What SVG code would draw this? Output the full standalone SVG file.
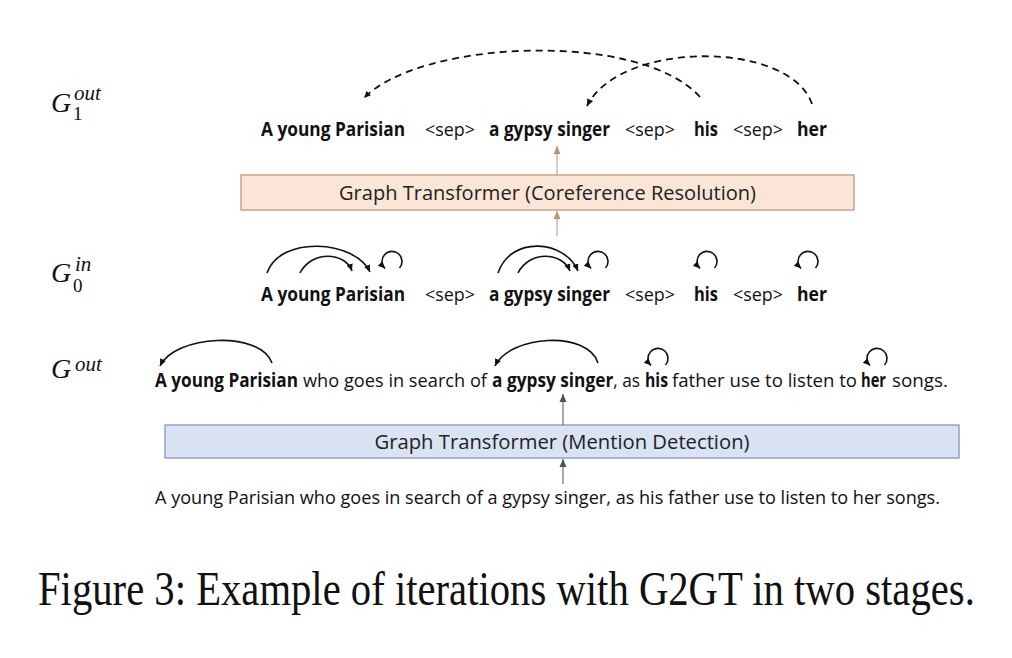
<svg xmlns="http://www.w3.org/2000/svg" width="1012" height="658" viewBox="0 0 1012 658">
<style>
.t{font-family:"Open Sans","Liberation Sans",sans-serif;font-size:19px;fill:#111}
.s{font-size:18px}
.b{font-weight:bold}
.box{font-family:"Open Sans","Liberation Sans",sans-serif;font-size:20px;fill:#222}
.m{font-family:"Liberation Serif","DejaVu Serif",serif;font-style:italic;fill:#111;font-size:28px}
.sm{font-size:21px}
.up{font-style:normal;font-size:19px}
.arc{fill:none;stroke:#111;stroke-width:1.6}
.dash{fill:none;stroke:#111;stroke-width:1.8;stroke-dasharray:7 5}
.cap{font-family:"Liberation Serif","Times New Roman",serif;font-size:48px;fill:#111}
</style>
<defs>
<marker id="ah" markerUnits="userSpaceOnUse" markerWidth="8" markerHeight="8" refX="7" refY="4" orient="auto"><path d="M0,0.8 L7,4 L0,7.2 Z" fill="#111"/></marker>
<marker id="ahO" markerUnits="userSpaceOnUse" markerWidth="9" markerHeight="9" refX="8" refY="4.5" orient="auto"><path d="M0,1 L8,4.5 L0,8 Z" fill="#c09070"/></marker>
<marker id="ahB" markerUnits="userSpaceOnUse" markerWidth="9" markerHeight="9" refX="8" refY="4.5" orient="auto"><path d="M0,1 L8,4.5 L0,8 Z" fill="#44546a"/></marker>
</defs>
<rect width="1012" height="658" fill="#fff"/>

<g id="label-g1out">
<text class="m" x="51" y="112">G<tspan class="sm" x="74" y="100">out</tspan><tspan class="up" x="73" y="120">1</tspan></text>
</g>
<g id="label-g0in">
<text class="m" x="51" y="282">G<tspan class="sm" x="75" y="271">in</tspan><tspan class="up" x="73" y="292">0</tspan></text>
</g>
<g id="label-gout">
<text class="m" x="51" y="378">G<tspan class="sm" x="75" y="371">out</tspan></text>
</g>

<g id="row-g1out">
<text class="t b" x="261" y="136" textLength="144" lengthAdjust="spacingAndGlyphs">A young Parisian</text>
<text class="t" x="425" y="136" textLength="50" lengthAdjust="spacingAndGlyphs">&lt;sep&gt;</text>
<text class="t b" x="489" y="136" textLength="121" lengthAdjust="spacingAndGlyphs">a gypsy singer</text>
<text class="t" x="625" y="136" textLength="50" lengthAdjust="spacingAndGlyphs">&lt;sep&gt;</text>
<text class="t b" x="694" y="136" textLength="24" lengthAdjust="spacingAndGlyphs">his</text>
<text class="t" x="733" y="136" textLength="50" lengthAdjust="spacingAndGlyphs">&lt;sep&gt;</text>
<text class="t b" x="797" y="136" textLength="30" lengthAdjust="spacingAndGlyphs">her</text>
</g>

<g id="coref-box">
<rect x="241" y="175" width="613" height="35" fill="#fbe5d6" stroke="#c8967a" stroke-width="1.3"/>
<text class="box" x="547.5" y="200" text-anchor="middle" textLength="417" lengthAdjust="spacingAndGlyphs">Graph Transformer (Coreference Resolution)</text>
</g>

<g id="row-g0in">
<text class="t b" x="261" y="301" textLength="144" lengthAdjust="spacingAndGlyphs">A young Parisian</text>
<text class="t" x="425" y="301" textLength="50" lengthAdjust="spacingAndGlyphs">&lt;sep&gt;</text>
<text class="t b" x="489" y="301" textLength="121" lengthAdjust="spacingAndGlyphs">a gypsy singer</text>
<text class="t" x="625" y="301" textLength="50" lengthAdjust="spacingAndGlyphs">&lt;sep&gt;</text>
<text class="t b" x="694" y="301" textLength="24" lengthAdjust="spacingAndGlyphs">his</text>
<text class="t" x="733" y="301" textLength="50" lengthAdjust="spacingAndGlyphs">&lt;sep&gt;</text>
<text class="t b" x="797" y="301" textLength="30" lengthAdjust="spacingAndGlyphs">her</text>
</g>

<g id="row-gout">
<text class="t b" x="155" y="387" textLength="143" lengthAdjust="spacingAndGlyphs">A young Parisian</text>
<text class="t" x="303" y="387" textLength="184" lengthAdjust="spacingAndGlyphs">who goes in search of</text>
<text class="t" x="492" y="387" textLength="148" lengthAdjust="spacingAndGlyphs"><tspan class="b">a gypsy singer</tspan>, as</text>
<text class="t b" x="645" y="387" textLength="23" lengthAdjust="spacingAndGlyphs">his</text>
<text class="t" x="672" y="387" textLength="185" lengthAdjust="spacingAndGlyphs">father use to listen to</text>
<text class="t b" x="861" y="387" textLength="25" lengthAdjust="spacingAndGlyphs">her</text>
<text class="t" x="892" y="387" textLength="56" lengthAdjust="spacingAndGlyphs">songs.</text>
</g>

<g id="mention-box">
<rect x="165" y="425" width="794" height="33" fill="#dae3f3" stroke="#8796b8" stroke-width="1.3"/>
<text class="box" x="562" y="449" text-anchor="middle" textLength="375" lengthAdjust="spacingAndGlyphs">Graph Transformer (Mention Detection)</text>
</g>

<g id="input-sentence">
<text class="t s" x="155" y="504" textLength="785" lengthAdjust="spacingAndGlyphs">A young Parisian who goes in search of a gypsy singer, as his father use to listen to her songs.</text>
</g>

<g id="connectors">
<line x1="563" y1="484" x2="563" y2="459" stroke="#44546a" stroke-width="1" marker-end="url(#ahB)"/>
<line x1="563" y1="425" x2="563" y2="394" stroke="#44546a" stroke-width="1" marker-end="url(#ahB)"/>
<line x1="557" y1="236" x2="557" y2="211" stroke="#c09070" stroke-width="1" marker-end="url(#ahO)"/>
<line x1="557" y1="175" x2="557" y2="146" stroke="#c09070" stroke-width="1" marker-end="url(#ahO)"/>
<path class="dash" d="M700,97 C640,30 420,40 364,98" marker-end="url(#ah)"/>
<path class="dash" d="M812,104 C790,40 620,40 587,106" marker-end="url(#ah)"/>
<path class="arc" d="M267,273 C280,235 355,240 370,272" marker-end="url(#ah)"/>
<path class="arc" d="M300,273 C312,250 345,252 352,271" marker-end="url(#ah)"/>
<path class="arc" d="M399.5,268 A10 10 0 1 0 385,268.5" marker-end="url(#ah)"/>
<path class="arc" d="M498,273 C511,235 565,240 578,271" marker-end="url(#ah)"/>
<path class="arc" d="M518,273 C530,250 562,252 570,271" marker-end="url(#ah)"/>
<path class="arc" d="M605.5,268 A10 10 0 1 0 591,268.5" marker-end="url(#ah)"/>
<path class="arc" d="M714.5,268 A10 10 0 1 0 700,268.5" marker-end="url(#ah)"/>
<path class="arc" d="M815.5,268 A10 10 0 1 0 801,268.5" marker-end="url(#ah)"/>
<path class="arc" d="M272,363 C260,330 175,335 160,366" marker-end="url(#ah)"/>
<path class="arc" d="M598,363 C588,330 510,335 495,366" marker-end="url(#ah)"/>
<path class="arc" d="M665.5,365 A10 10 0 1 0 651,365.5" marker-end="url(#ah)"/>
<path class="arc" d="M884.5,365 A10 10 0 1 0 870,365.5" marker-end="url(#ah)"/>
</g>

<g id="caption">
<text class="cap" transform="translate(38,605) scale(0.8,1)" x="0" y="0" textLength="1171" lengthAdjust="spacingAndGlyphs">Figure 3: Example of iterations with G2GT in two stages.</text>
</g>
</svg>
